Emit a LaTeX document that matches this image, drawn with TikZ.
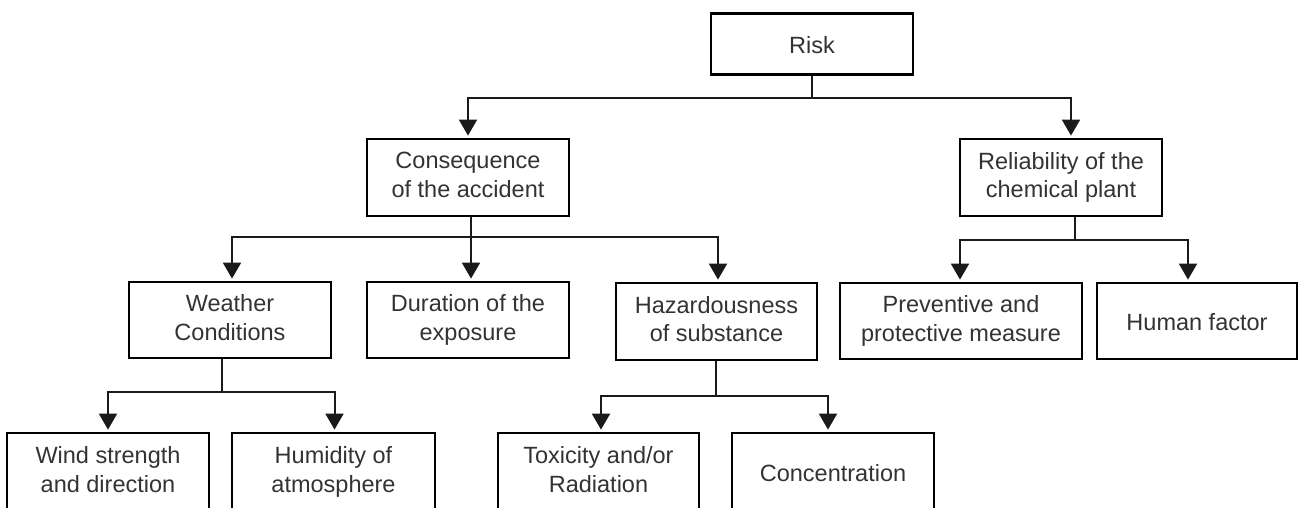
\documentclass[tikz,border=0pt]{standalone}
\usepackage{fontspec}
\setmainfont{Liberation Sans}
\usetikzlibrary{arrows.meta}
\definecolor{txt}{HTML}{333333}
\definecolor{ln}{HTML}{1A1A1A}
\newcommand{\topstr}{\rule{0pt}{24pt}}
\newcommand{\botstr}{\rule[-5pt]{0pt}{5pt}}
\tikzset{
  box/.style={draw=black, line width=2.8pt, minimum width=202pt, minimum height=77pt,
    align=center, inner sep=0pt, text=txt, font=\fontsize{23.5}{28.5}\selectfont,
    execute at begin node={\topstr}, execute at end node={\botstr}},
  conn/.style={draw=ln, line width=2pt},
  arr/.style={conn, -{Triangle[width=18pt,length=16pt]}, shorten >=2pt}
}
\begin{document}
\begin{tikzpicture}[x=1pt,y=-1pt]
\useasboundingbox (0,0) rectangle (1301,507);
\clip (0,0) rectangle (1301,507);
\fill[white] (0,0) rectangle (1301,507);
% nodes
\node[box, minimum height=61pt] (risk) at (812,44) {Risk};
\node[box] (cons) at (468,177.5) {Consequence\\of the accident};
\node[box] (rel) at (1061,177.5) {Reliability of the\\chemical plant};
\node[box, minimum height=76pt] (wea) at (230,320) {Weather\\Conditions};
\node[box, minimum height=76pt] (dur) at (468,320) {Duration of the\\exposure};
\node[box, minimum width=201pt] (haz) at (716.5,321.5) {Hazardousness\\of substance};
\node[box, minimum width=242pt, minimum height=76pt] (prev) at (961,321) {Preventive and\\protective measure};
\node[box, minimum width=200pt, minimum height=76pt] (hum) at (1197,321) {Human factor};
\node[box, minimum height=78pt] (wind) at (108,472) {Wind strength\\and direction};
\node[box, minimum width=203pt, minimum height=78pt] (humi) at (333.5,472) {Humidity of\\atmosphere};
\node[box, minimum width=201pt, minimum height=78pt] (tox) at (598.5,472) {Toxicity and/or\\Radiation};
\node[box, minimum height=78pt] (conc) at (833,472) {Concentration};
% junctions
\coordinate (j1) at (812,98);
\coordinate (j2) at (471,237);
\coordinate (j3) at (1075,240);
\coordinate (j4) at (222,392);
\coordinate (j5) at (716,396);
% connectors
\draw[conn] (risk.south) -- (j1);
\draw[arr] (j1) -| (cons.north);
\draw[arr] (j1) -| ([xshift=10pt]rel.north);
\draw[conn] (j2 |- cons.south) -- (j2);
\draw[arr] (j2) -| ([xshift=2pt]wea.north);
\draw[arr] (j2) -- (j2 |- dur.north);
\draw[arr] (j2) -| ([xshift=1.5pt]haz.north);
\draw[conn] (j3 |- rel.south) -- (j3);
\draw[arr] (j3) -| ([xshift=-1pt]prev.north);
\draw[arr] (j3) -| ([xshift=-9pt]hum.north);
\draw[conn] (j4 |- wea.south) -- (j4);
\draw[arr] (j4) -| (wind.north);
\draw[arr] (j4) -| ([xshift=1pt]humi.north);
\draw[conn] (j5 |- haz.south) -- (j5);
\draw[arr] (j5) -| ([xshift=2.5pt]tox.north);
\draw[arr] (j5) -| ([xshift=-5pt]conc.north);
\end{tikzpicture}
\end{document}
